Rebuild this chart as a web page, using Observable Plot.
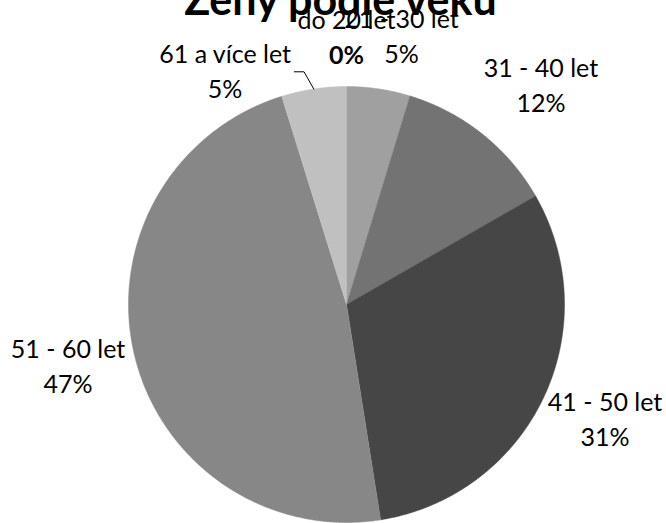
<!DOCTYPE html>
<html>
<head>
<meta charset="utf-8">
<script src="https://cdn.jsdelivr.net/npm/d3@7"></script>
<script src="https://cdn.jsdelivr.net/npm/@observablehq/plot@0.6"></script>
<style>
  html, body { margin: 0; padding: 0; background: #fff; }
  #chart svg { display: block; }
</style>
</head>
<body>
<div id="chart"></div>
<script>
// ---- data ----
const title = "Ženy podle věku";
const categories = ["do 20 let", "21 - 30 let", "31 - 40 let", "41 - 50 let", "51 - 60 let", "61 a více let"];
const values = [0, 4.7, 12.0, 30.8, 47.7, 4.8];
const percentLabels = ["0%", "5%", "12%", "31%", "47%", "5%"];
const colors = ["#b0b0b0", "#a0a0a0", "#737373", "#464646", "#878787", "#c0c0c0"];

// ---- layout (label placement in polar terms, not data) ----
const labelRadius = [1.22, 1.25, 1.34, 1.30, 1.31, 1.20];
const labelAngleShift = [0, 3.2, 3.2, -1.4, 0.3, -19];

const total = d3.sum(values);
let cum = 0;
const slices = categories.map((c, i) => {
  const a0 = cum / total * 2 * Math.PI;
  cum += values[i];
  const a1 = cum / total * 2 * Math.PI;
  return {category: c, value: values[i], label: percentLabels[i], color: colors[i], a0, a1, i};
});

// slice outlines (sampled arc) in unit-circle coordinates
const outline = [];
for (const s of slices) {
  if (s.value <= 0) continue;
  const n = Math.max(2, Math.ceil((s.a1 - s.a0) / 0.005));
  outline.push({category: s.category, x: 0, y: 0});
  for (let k = 0; k <= n; k++) {
    const a = s.a0 + (s.a1 - s.a0) * k / n;
    outline.push({category: s.category, x: Math.sin(a), y: Math.cos(a)});
  }
}

const labels = slices.map(s => {
  const mid = (s.a0 + s.a1) / 2 + labelAngleShift[s.i] * Math.PI / 180;
  const r = labelRadius[s.i];
  return {...s, lx: r * Math.sin(mid), ly: r * Math.cos(mid)};
});

// leader line for "61 a více let"
const s61 = slices[5];
const m61 = (s61.a0 + s61.a1) / 2;
const deg = Math.PI / 180;
const leader = [
  {x: 1.094 * Math.sin(m61 - 4.0 * deg), y: 1.094 * Math.cos(m61 - 4.0 * deg)},
  {x: 1.085 * Math.sin(m61 - 1.7 * deg), y: 1.085 * Math.cos(m61 - 1.7 * deg)},
  {x: Math.sin(m61), y: Math.cos(m61)}
];

const font = "Lato, 'Open Sans', sans-serif";

const chart = Plot.plot({
  width: 666,
  height: 523,
  marginLeft: 128,
  marginRight: 102,
  marginTop: 86,
  marginBottom: 1,
  x: {domain: [-1, 1], axis: null},
  y: {domain: [-1, 1], axis: null},
  color: {domain: categories, range: colors},
  style: {fontFamily: font, background: "#fff", overflow: "visible"},
  marks: [
    Plot.line(outline, {x: "x", y: "y", z: "category", fill: "category", stroke: "category", strokeWidth: 0.5, curve: "linear"}),
    Plot.line(leader, {x: "x", y: "y", stroke: "#000", strokeWidth: 1}),
    Plot.text(labels, {x: "lx", y: "ly", text: "category", dy: -17.5, fontSize: 25, fill: "#000", textAnchor: "middle", lineAnchor: "middle"}),
    Plot.text(labels.filter(d => d.value > 0), {x: "lx", y: "ly", text: "label", dy: 17.5, fontSize: 25, fill: "#000", textAnchor: "middle", lineAnchor: "middle"}),
    Plot.text(labels.filter(d => d.value <= 0), {x: "lx", y: "ly", text: "label", dy: 17.5, fontSize: 25, fontWeight: "bold", fill: "#000", textAnchor: "middle", lineAnchor: "middle"}),
    Plot.text([title], {frameAnchor: "top", text: d => d, dx: -6, dy: -85.5, fontSize: 43, fontWeight: "bold", fill: "#000", textAnchor: "middle", lineAnchor: "middle"})
  ]
});
document.getElementById("chart").appendChild(chart);
</script>
</body>
</html>
